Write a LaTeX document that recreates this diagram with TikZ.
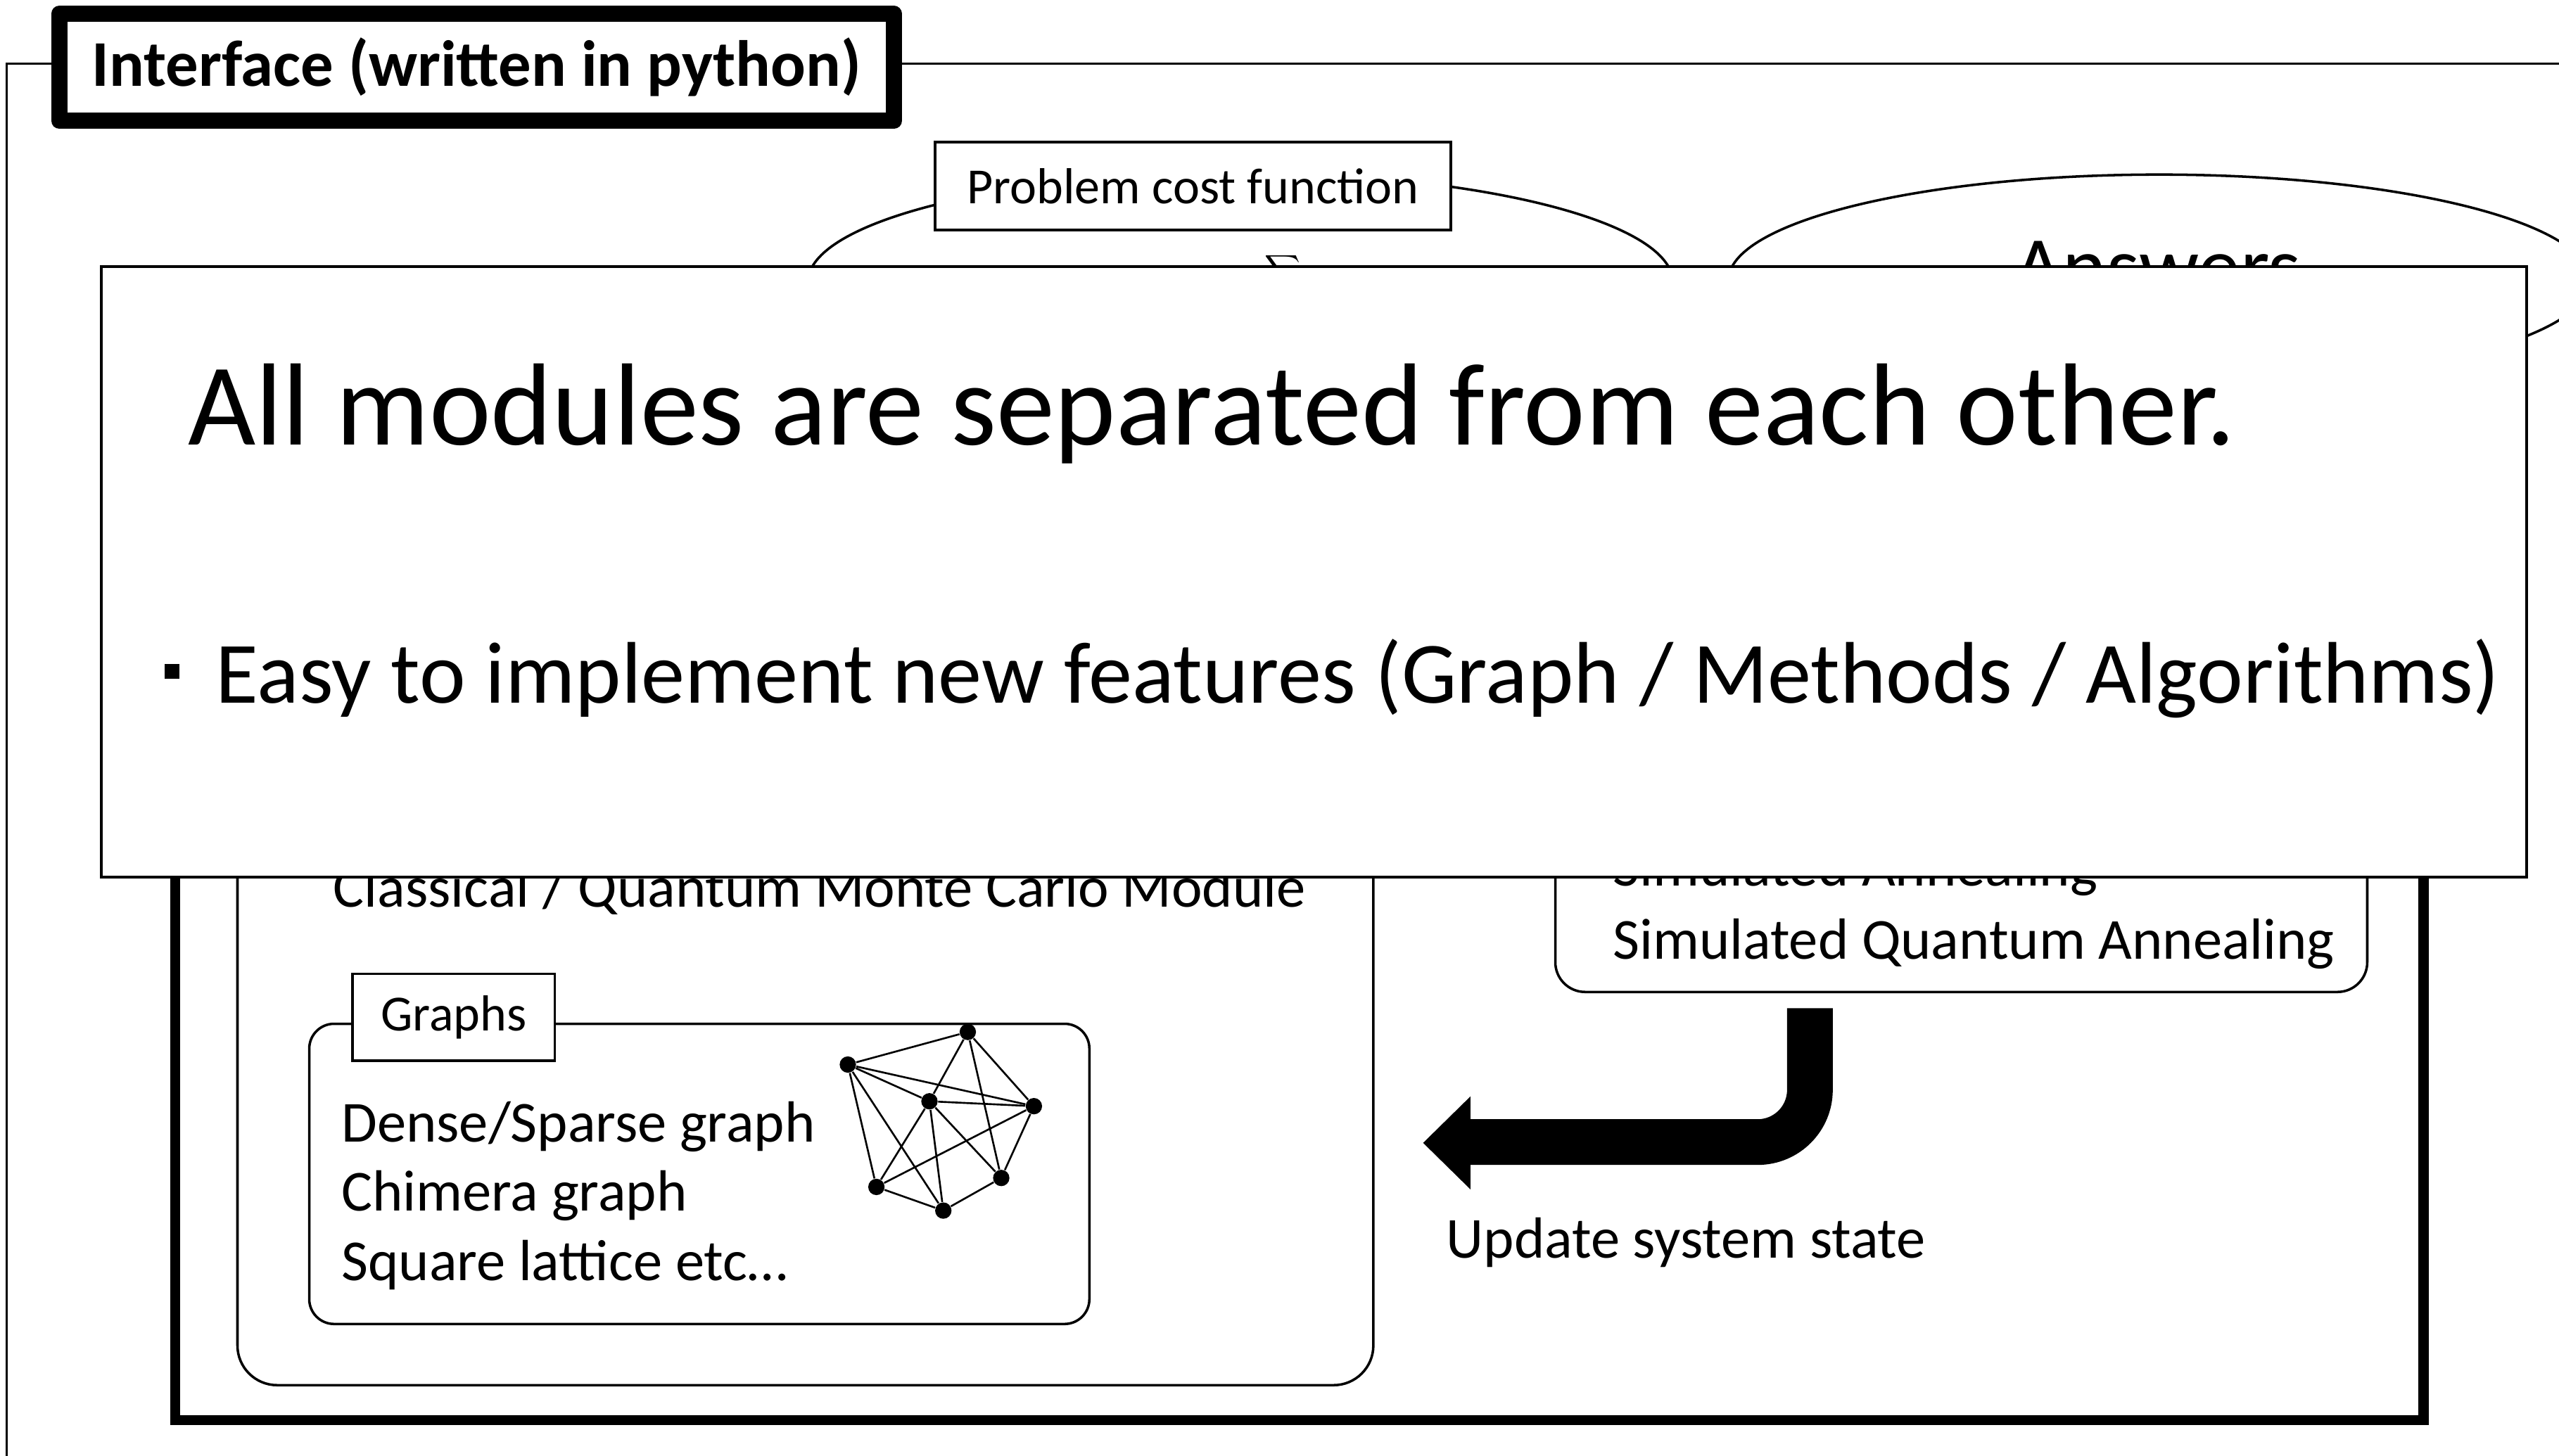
\documentclass[tikz,border=0pt]{standalone}
\usepackage{fontspec}
\setmainfont{Carlito}
\newcommand\fsTitle{\fontsize{26.3pt}{31pt}\selectfont\bfseries}
\newcommand\fsLabel{\fontsize{20.4pt}{24pt}\selectfont}
\newcommand\fsBody{\fontsize{23.4pt}{28pt}\selectfont}
\newcommand\fsAns{\fontsize{33.8pt}{40pt}\selectfont}
\newcommand\fsBig{\fontsize{47.1pt}{56pt}\selectfont}
\newcommand\fsBullet{\fontsize{35.25pt}{42pt}\selectfont}
\begin{document}
\begin{tikzpicture}[x=0.6575pt,y=-0.6575pt,
  thinline/.style={line width=1pt},
  txt/.style={inner sep=0pt,anchor=base west},
  labelbox/.style={draw,thinline,fill=white,inner sep=0pt},
  vtx/.style={circle,fill=black,inner sep=0pt,minimum size=6.6pt},
  edge/.style={line width=0.75pt}]
\useasboundingbox (0,0) rectangle (1568,892);
\clip (0,0) rectangle (1568,892);

% outer interface frame
\coordinate (fbl) at (4,900);
\coordinate (ftl) at (4,39);
\coordinate (ftr) at (1600,39);
\draw[thinline] (fbl) -- (ftl) -- (ftr);

% interface title tab
\node[draw,fill=white,line width=6.6pt,line join=round,inner sep=0pt,
      minimum width=336.2pt,minimum height=43.1pt] (iface) at (292,41.3)
      {\fsTitle Interface (written in python)};

% problem ellipse with its formula
\draw[thinline,fill=white] (760,173) ellipse [x radius=265,y radius=67];
\node[inner sep=0pt,anchor=north] (sum) at (786,155)
      {\fontsize{21pt}{25pt}\selectfont$\displaystyle\sum$};
\node[labelbox,minimum width=207.8pt,minimum height=35.5pt] (pcf) at (731,114)
      {\fsLabel Problem cost function};

% answers ellipse
\draw[thinline,fill=white] (1323,172) ellipse [x radius=264,y radius=65];
\node[inner sep=0pt,anchor=base] (ans) at (1322,181) {\fsAns Answers};

% module container
\draw[line width=4pt] (107.5,250) rectangle (1485,870.5);

% Monte Carlo module
\draw[thinline,rounded corners=16pt] (145.5,470) rectangle (841.5,849);
\node[txt] (mc) at (204,556) {\fsBody Classical / Quantum Monte Carlo Module};

% graphs sub-module
\draw[thinline,rounded corners=10pt] (189.5,627.5) rectangle (667.5,811.5);
\node[labelbox,minimum width=81.5pt,minimum height=34.9pt] (glab) at (278,623.5)
      {\fsLabel Graphs};
\node[txt] (g1) at (209,700) {\fsBody Dense/Sparse graph};
\node[txt] (g2) at (209,742) {\fsBody Chimera graph};
\node[txt] (g3) at (209,785) {\fsBody Square lattice etc…};

% small graph icon
\node[vtx] (n1) at (593,632.5) {};
\node[vtx] (n2) at (519.5,652.5) {};
\node[vtx] (n3) at (569.5,675) {};
\node[vtx] (n4) at (633.5,678) {};
\node[vtx] (n5) at (613.5,722) {};
\node[vtx] (n6) at (537,727.5) {};
\node[vtx] (n7) at (578,742) {};
\foreach \a/\b in {n2/n1,n2/n4,n2/n3,n2/n6,n2/n7,n1/n3,n3/n6,n1/n5,n1/n4,
                   n3/n4,n3/n7,n3/n5,n4/n6,n4/n5,n6/n7,n7/n5}
  \draw[edge] (\a) -- (\b);

% annealing methods module
\draw[thinline,rounded corners=12pt] (953,460) rectangle (1450.5,608);
\node[txt] (sa) at (988,543) {\fsBody Simulated Annealing};
\node[txt] (sqa) at (988,588) {\fsBody Simulated Quantum Annealing};

% bent update arrow
\fill (1095,618) -- (1123,618) -- (1123,668)
  arc[start angle=0,end angle=-90,radius=30.25pt]
  -- (901,714) -- (901,729) -- (872,700.5) -- (901,672) -- (901,686)
  -- (1077,686) arc[start angle=-90,end angle=0,radius=11.84pt] -- cycle;
\node[txt] (upd) at (886,771) {\fsBody Update system state};

% summary panel
\draw[line width=1.1pt,fill=white] (62,163.5) rectangle (1548,537.5);
\node[txt] (head) at (115,272.5)
      {\fsBig All modules are separated from each other.};
\node[fill=black,inner sep=0pt,minimum size=6pt] (bul) at (105.5,411.5) {};
\node[txt] (feat) at (132,431)
      {\fsBullet Easy to implement new features (Graph / Methods / Algorithms)};
\end{tikzpicture}
\end{document}
